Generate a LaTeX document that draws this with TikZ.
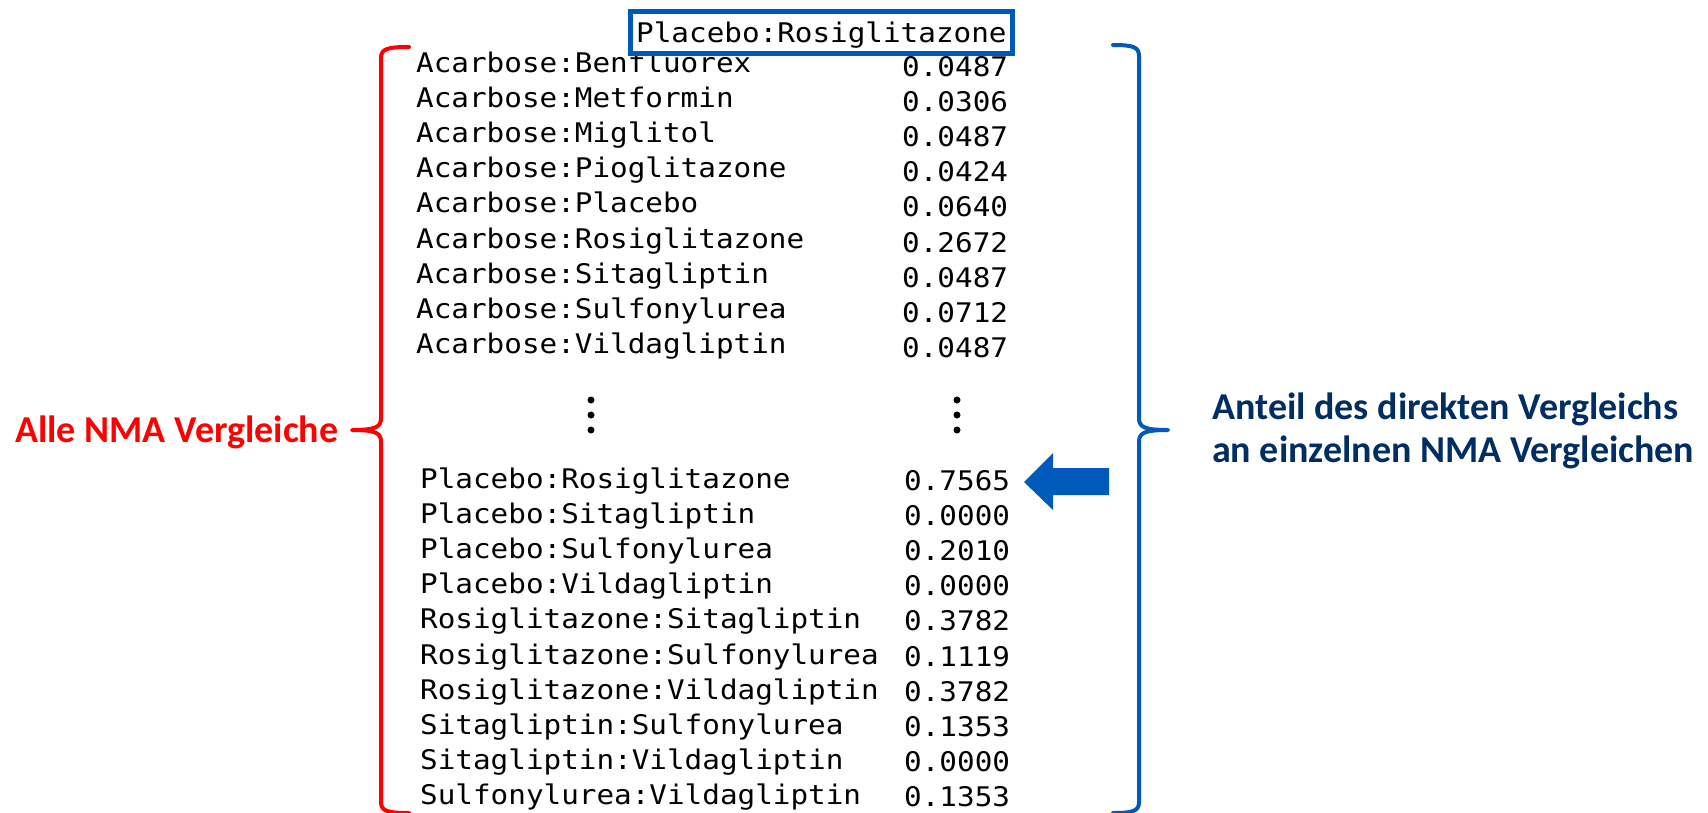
\documentclass[tikz,border=0pt]{standalone}
\usepackage{fontspec}
\newfontfamily\monofnt[FakeStretch=1.085]{DejaVu Sans Mono}
\newfontfamily\labelfnt{Carlito}
\definecolor{bracered}{RGB}{255,0,0}
\definecolor{boxblue}{RGB}{0,90,187}
\definecolor{textnavy}{RGB}{0,46,98}
\begin{document}
\begin{tikzpicture}[x=1pt,y=-1pt,
  row/.style={anchor=base west,inner sep=0pt,font=\monofnt\fontsize{27}{27}\selectfont,text=black},
  lbl/.style={anchor=base west,inner sep=0pt,font=\labelfnt\bfseries\fontsize{38}{43}\selectfont},
  redbrace/.style={draw=bracered,line width=4pt,line cap=round,line join=round},
  bluebrace/.style={draw=boxblue,line width=4pt,line cap=round,line join=round},
  dotmark/.style={fill=black,draw=none}]
\useasboundingbox (0,0) rectangle (1708,812);
\begin{scope}
\clip (0,0) rectangle (1708,812);
% first block
\foreach \i/\nm/\val in {1/Acarbose:Benfluorex/0.0487,2/Acarbose:Metformin/0.0306,3/Acarbose:Miglitol/0.0487,4/Acarbose:Pioglitazone/0.0424,5/Acarbose:Placebo/0.0640,6/Acarbose:Rosiglitazone/0.2672,7/Acarbose:Sitagliptin/0.0487,8/Acarbose:Sulfonylurea/0.0712,9/Acarbose:Vildagliptin/0.0487}{
  \node[row] (n\i) at (416,{72+(\i-1)*35.2}) {\nm};
  \node[row] (v\i) at (902,{76+(\i-1)*35.2}) {\val};
}
% second block
\foreach \i/\nm/\val in {10/Placebo:Rosiglitazone/0.7565,11/Placebo:Sitagliptin/0.0000,12/Placebo:Sulfonylurea/0.2010,13/Placebo:Vildagliptin/0.0000,14/Rosiglitazone:Sitagliptin/0.3782,15/Rosiglitazone:Sulfonylurea/0.1119,16/Rosiglitazone:Vildagliptin/0.3782,17/Sitagliptin:Sulfonylurea/0.1353,18/Sitagliptin:Vildagliptin/0.0000,19/Sulfonylurea:Vildagliptin/0.1353}{
  \node[row] (n\i) at (420,{488+(\i-10)*35.2}) {\nm};
  \node[row] (v\i) at (904,{490+(\i-10)*35.2}) {\val};
}
% header box
\draw[boxblue,line width=5pt,fill=white] (630,11) rectangle (1012,53);
\node[row] (hdr) at (636,42) {Placebo:Rosiglitazone};
% ellipsis dots
\foreach \k/\yy in {1/400,2/415,3/430}{
  \fill[dotmark] (591,\yy) circle (3.5);
  \fill[dotmark] (957,\yy) circle (3.5);
}
% red brace
\coordinate (rtip) at (352,430);
\draw[redbrace] (409,47) .. controls (387,47) and (381,49) .. (381,58) -- (381,418)
  .. controls (381,427) and (376,430) .. (rtip)
  .. controls (376,430) and (381,433) .. (381,442) -- (381,802)
  .. controls (381,811) and (387,813) .. (409,813);
% blue brace
\coordinate (btip) at (1168,430);
\draw[bluebrace] (1113,45) .. controls (1133,45) and (1139,47) .. (1139,56) -- (1139,418)
  .. controls (1139,427) and (1144,430) .. (btip)
  .. controls (1144,430) and (1139,433) .. (1139,442) -- (1139,802)
  .. controls (1139,811) and (1133,813) .. (1113,813);
\end{scope}
% labels
\node[lbl,text=bracered] (redlbl) at (15,442) {Alle NMA Vergleiche};
\node[lbl,text=textnavy] (bluelblA) at (1212,419) {Anteil des direkten Vergleichs};
\node[lbl,text=textnavy] (bluelblB) at (1212,462) {an einzelnen NMA Vergleichen};
% arrow
\fill[boxblue] (1024,482) -- (1053,453) -- (1053,468) -- (1109,468) -- (1109,495) -- (1053,495) -- (1053,510) -- cycle;
\end{tikzpicture}
\end{document}
